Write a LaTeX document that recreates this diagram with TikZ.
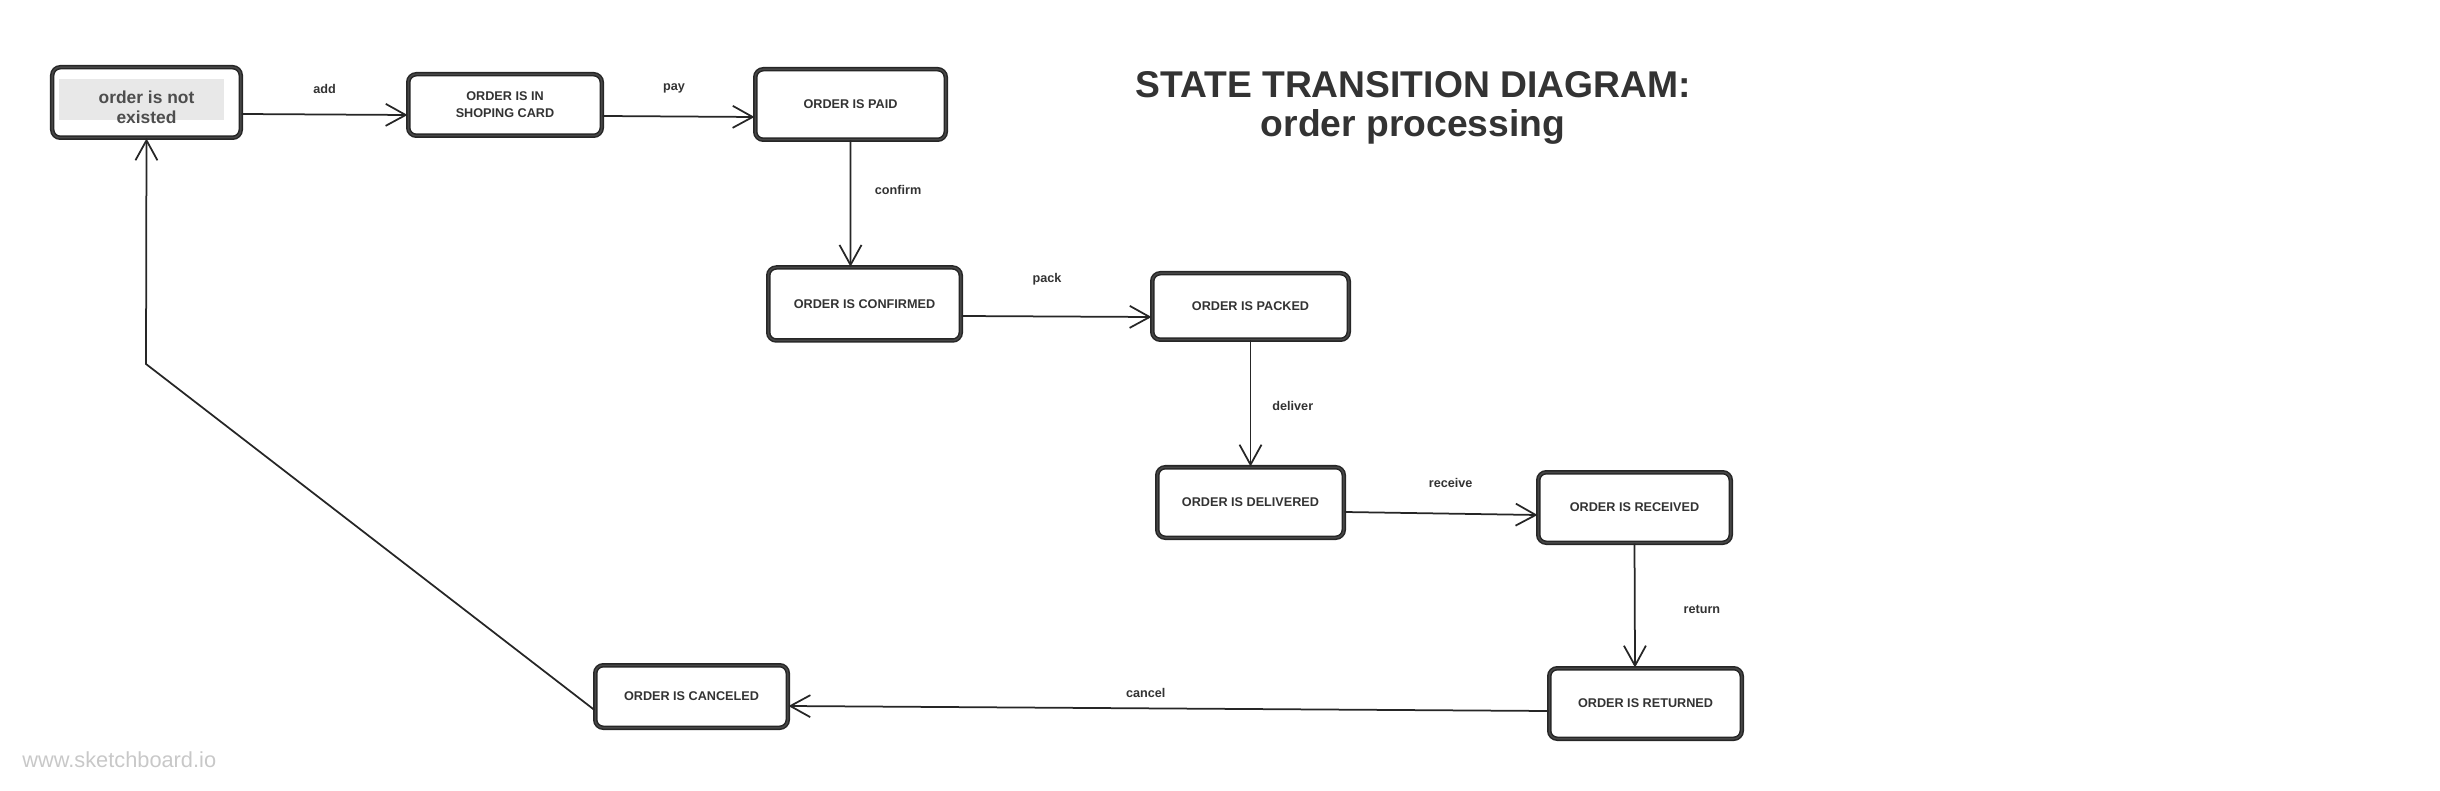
\documentclass[tikz,border=0pt]{standalone}
\usepackage{fontspec}
\setmainfont{Liberation Sans}
\usetikzlibrary{arrows.meta}

\definecolor{inkdark}{HTML}{262626}
\definecolor{textdark}{HTML}{333333}
\definecolor{notegrey}{HTML}{E8E8E8}
\definecolor{notetext}{HTML}{4D4D4D}
\definecolor{marklight}{HTML}{C8C8C8}

\tikzset{
  state/.style={draw=inkdark, line width=0.3mm, double=inkdark!85, double distance=0.3mm,
    rounded corners=1.6mm, text=textdark, align=center, inner sep=0pt,
    font=\bfseries\fontsize{7.2}{9.6}\selectfont},
  trans/.style={draw=inkdark, line width=0.35mm, -{Straight Barb[length=4mm,width=4.4mm]}},
  trlabel/.style={inner sep=0pt, text=textdark, font=\bfseries\fontsize{7.2}{9}\selectfont},
}

\begin{document}
\begin{tikzpicture}[x=0.2mm, y=-0.2mm]
    % page size of the sketch
    \useasboundingbox (0,0) rectangle (2440,791);

    % --- Title ---
    \node[text=textdark, align=center, inner sep=0pt, font=\bfseries\fontsize{21.2}{22.2}\selectfont]
        (title) at (1413,108) {STATE TRANSITION DIAGRAM:\\order processing};

    % --- Start state (grey note inside) ---
    \fill[notegrey] (59,79) rectangle (224,120);
    \node[state, minimum width=37.7mm, minimum height=14.1mm, text=notetext, text height=24.3pt,
        font=\bfseries\fontsize{9.9}{11.4}\selectfont] (exist) at (146.5,102.5) {order is not\\existed};

    % --- States ---
    \node[state, minimum width=38.7mm, minimum height=12.3mm] (cart) at (505,105) {ORDER IS IN\\SHOPING CARD};
    \node[state, minimum width=38.1mm, minimum height=14.1mm] (paid) at (850.5,104.5) {ORDER IS PAID};
    \node[state, minimum width=38.5mm, minimum height=14.6mm] (confirmed) at (864.5,304) {ORDER IS CONFIRMED};
    \node[state, minimum width=39.3mm, minimum height=13.3mm] (packed) at (1250.5,306.5) {ORDER IS PACKED};
    \node[state, minimum width=37.3mm, minimum height=14.1mm] (delivered) at (1250.5,502.5) {ORDER IS DELIVERED};
    \node[state, minimum width=38.5mm, minimum height=14.1mm] (received) at (1634.5,507.5) {ORDER IS RECEIVED};
    \node[state, minimum width=38.5mm, minimum height=14.1mm] (returned) at (1645.5,703.5) {ORDER IS RETURNED};
    \node[state, minimum width=38.5mm, minimum height=12.5mm] (canceled) at (691.5,696.5) {ORDER IS CANCELED};

    % --- Transitions ---
    \draw[trans] ([yshift=-2.3mm]exist.east) -- node[trlabel, pos=0.5, above=4mm] {add} ([yshift=-2mm]cart.west);
    \draw[trans] ([yshift=-2.2mm]cart.east) -- node[trlabel, pos=0.47, above=4.5mm] {pay} ([yshift=-2.5mm]paid.west);
    \draw[trans] (paid.south) -- node[trlabel, pos=0.39, right=4.7mm] {confirm} ([xshift=-2.8mm]confirmed.north);
    \draw[trans] ([yshift=-2.4mm]confirmed.east) -- node[trlabel, pos=0.45, above=6mm] {pack} ([yshift=-2.1mm]packed.west);
    \draw[trans] (packed) -- node[trlabel, pos=0.52, right=4.2mm] {deliver} (delivered);
    \draw[trans] ([yshift=-1.9mm]delivered.east) -- node[trlabel, pos=0.55, above=5mm] {receive} ([yshift=-1.5mm]received.west);
    \draw[trans] (received.south) -- node[trlabel, pos=0.53, right=9.6mm] {return} ([xshift=-2.1mm]returned.north);
    \draw[trans] ([yshift=-1.5mm]returned.west) -- node[trlabel, pos=0.53, above=2mm] {cancel} ([yshift=-1.9mm]canceled.east);

    % --- Back to the start ---
    \coordinate (bend) at (146,364);
    \draw[trans] ([yshift=-2.7mm]canceled.west) -- (bend) -- (exist.south);

    % --- Watermark ---
    \node[anchor=west, inner sep=0pt, text=marklight, font=\fontsize{12.4}{14}\selectfont]
        (mark) at (22,760) {www.sketchboard.io};
\end{tikzpicture}
\end{document}
